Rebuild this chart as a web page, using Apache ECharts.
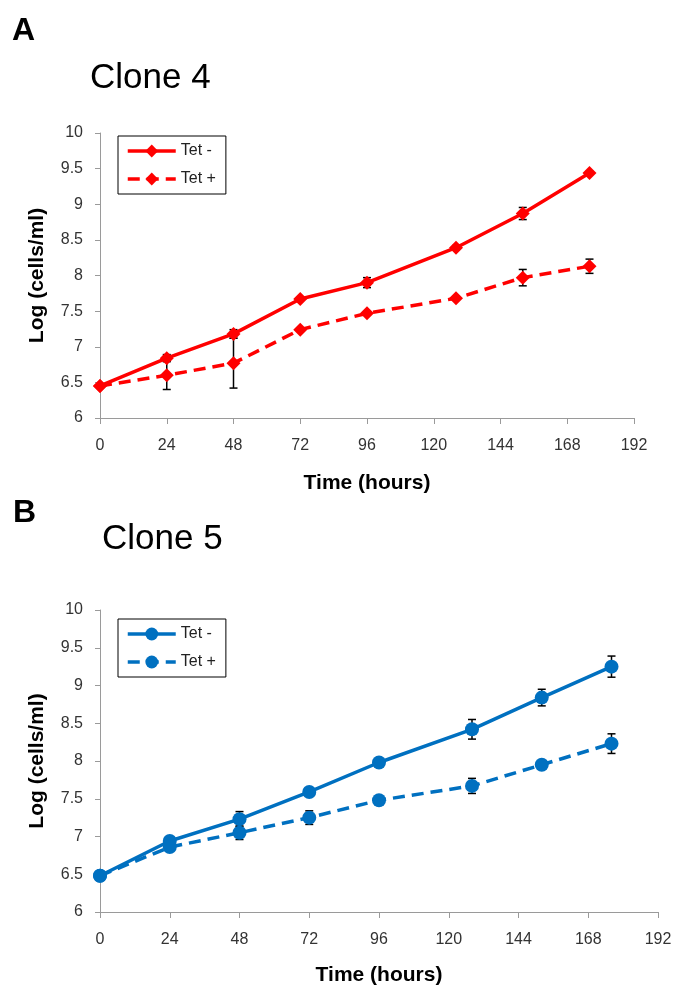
<!DOCTYPE html>
<html>
<head>
<meta charset="utf-8">
<script src="https://cdn.jsdelivr.net/npm/echarts@6/dist/echarts.min.js"></script>
<style>
  html, body { margin: 0; padding: 0; background: #fff; }
  #chart { width: 675px; height: 987px; }
</style>
</head>
<body>
<div id="chart"></div>
<script>
// time points (hours)
const hours = [0, 24, 48, 72, 96, 128, 152, 176];
const xTicks = [0, 24, 48, 72, 96, 120, 144, 168, 192];
const yTicks = [6, 6.5, 7, 7.5, 8, 8.5, 9, 9.5, 10];

// Clone 4
const clone4TetMinus = [6.45, 6.84, 7.18, 7.67, 7.90, 8.39, 8.87, 9.44];
const clone4TetMinusErr = [0, 0.05, 0.06, 0, 0.07, 0.03, 0.085, 0.02];
const clone4TetPlus = [6.45, 6.60, 6.77, 7.24, 7.47, 7.68, 7.97, 8.13];
const clone4TetPlusErr = [0, 0.2, 0.35, 0, 0, 0, 0.115, 0.1];

// Clone 5
const clone5TetMinus = [6.48, 6.94, 7.23, 7.59, 7.98, 8.42, 8.84, 9.25];
const clone5TetMinusErr = [0, 0.03, 0.1, 0.03, 0.05, 0.13, 0.11, 0.14];
const clone5TetPlus = [6.48, 6.86, 7.05, 7.25, 7.48, 7.67, 7.95, 8.23];
const clone5TetPlusErr = [0, 0.05, 0.09, 0.09, 0.02, 0.1, 0.03, 0.13];

const RED = '#ff0000';
const BLUE = '#0070c0';
const tickFont = 'Liberation Sans';

const points = vals => hours.map((h, i) => [h, vals[i]]);
const errPoints = (vals, errs) =>
  hours.map((h, i) => [h, vals[i] - errs[i], vals[i] + errs[i]]);

function errorBar(params, api) {
  const x = api.value(0);
  const lo = api.value(1);
  const hi = api.value(2);
  if (hi - lo <= 0) return;
  const top = api.coord([x, hi]);
  const bot = api.coord([x, lo]);
  const w = 4;
  const st = { stroke: '#000', lineWidth: 1.5 };
  return {
    type: 'group',
    children: [
      { type: 'line', shape: { x1: top[0], y1: top[1], x2: bot[0], y2: bot[1] }, style: st },
      { type: 'line', shape: { x1: top[0] - w, y1: top[1], x2: top[0] + w, y2: top[1] }, style: st },
      { type: 'line', shape: { x1: bot[0] - w, y1: bot[1], x2: bot[0] + w, y2: bot[1] }, style: st }
    ]
  };
}

function xAxisCfg(gridIndex, gap) {
  return {
    gridIndex: gridIndex,
    type: 'value',
    min: xTicks[0],
    max: xTicks[xTicks.length - 1],
    interval: xTicks[1] - xTicks[0],
    name: 'Time (hours)',
    nameLocation: 'middle',
    nameGap: gap,
    nameTextStyle: { fontFamily: 'Liberation Sans', fontWeight: 'bold', fontSize: 21, color: '#000' },
    axisLine: { lineStyle: { color: '#9a9a9a', width: 1 } },
    axisTick: { show: true, length: 6, lineStyle: { color: '#9a9a9a' } },
    axisLabel: { fontFamily: tickFont, fontSize: 16, color: '#333', margin: 20 },
    splitLine: { show: false }
  };
}

function yAxisCfg(gridIndex) {
  return {
    gridIndex: gridIndex,
    type: 'value',
    min: yTicks[0],
    max: yTicks[yTicks.length - 1],
    interval: yTicks[1] - yTicks[0],
    name: 'Log (cells/ml)',
    nameLocation: 'middle',
    nameGap: 52,
    nameTextStyle: { fontFamily: 'Liberation Sans', fontWeight: 'bold', fontSize: 21, color: '#000' },
    axisLine: { show: true, lineStyle: { color: '#9a9a9a', width: 1 } },
    axisTick: { show: true, length: 5, lineStyle: { color: '#9a9a9a' } },
    axisLabel: { fontFamily: tickFont, fontSize: 16, color: '#333', margin: 17 },
    splitLine: { show: false }
  };
}

function legendCfg(names, top) {
  return {
    orient: 'vertical',
    left: 118,
    top: top,
    data: names,
    itemWidth: 48,
    itemHeight: 16,
    itemGap: 12,
    padding: [7, 10, 7, 8],
    borderColor: '#000',
    borderWidth: 1,
    lineStyle: { width: 3.5 },
    formatter: name => name.trim(),
    textStyle: { fontFamily: tickFont, fontSize: 16, color: '#222' }
  };
}

function lineSeries(name, vals, color, symbol, dashed, idx) {
  return {
    name: name,
    type: 'line',
    xAxisIndex: idx,
    yAxisIndex: idx,
    data: points(vals),
    symbol: symbol,
    symbolSize: 14,
    color: color,
    itemStyle: { color: color },
    lineStyle: { color: color, width: 3.5, type: dashed ? [12, 7] : 'solid' },
    z: 3
  };
}

function errSeries(vals, errs, idx) {
  return {
    type: 'custom',
    xAxisIndex: idx,
    yAxisIndex: idx,
    renderItem: errorBar,
    encode: { x: 0, y: [1, 2] },
    data: errPoints(vals, errs),
    silent: true,
    z: 2
  };
}

const chart = echarts.init(document.getElementById('chart'), null, { renderer: 'canvas' });

chart.setOption({
  backgroundColor: '#fff',
  animation: false,
  graphic: [
    { type: 'text', x: 12, y: 31, style: { text: 'A', font: 'bold 32px "Liberation Sans"', fill: '#000', verticalAlign: 'middle' } },
    { type: 'text', x: 90, y: 78, style: { text: 'Clone 4', font: '35px "Liberation Sans"', fill: '#000', verticalAlign: 'middle' } },
    { type: 'text', x: 13, y: 513, style: { text: 'B', font: 'bold 32px "Liberation Sans"', fill: '#000', verticalAlign: 'middle' } },
    { type: 'text', x: 102, y: 539, style: { text: 'Clone 5', font: '35px "Liberation Sans"', fill: '#000', verticalAlign: 'middle' } }
  ],
  legend: [
    legendCfg(['Tet -', 'Tet +'], 136),
    legendCfg(['Tet - ', 'Tet + '], 619)
  ],
  grid: [
    { left: 100, top: 133, width: 534, height: 285 },
    { left: 100, top: 610, width: 558, height: 302 }
  ],
  xAxis: [xAxisCfg(0, 55), xAxisCfg(1, 53)],
  yAxis: [yAxisCfg(0), yAxisCfg(1)],
  series: [
    errSeries(clone4TetMinus, clone4TetMinusErr, 0),
    errSeries(clone4TetPlus, clone4TetPlusErr, 0),
    lineSeries('Tet -', clone4TetMinus, RED, 'diamond', false, 0),
    lineSeries('Tet +', clone4TetPlus, RED, 'diamond', true, 0),
    errSeries(clone5TetMinus, clone5TetMinusErr, 1),
    errSeries(clone5TetPlus, clone5TetPlusErr, 1),
    lineSeries('Tet - ', clone5TetMinus, BLUE, 'circle', false, 1),
    lineSeries('Tet + ', clone5TetPlus, BLUE, 'circle', true, 1)
  ]
});
</script>
</body>
</html>
